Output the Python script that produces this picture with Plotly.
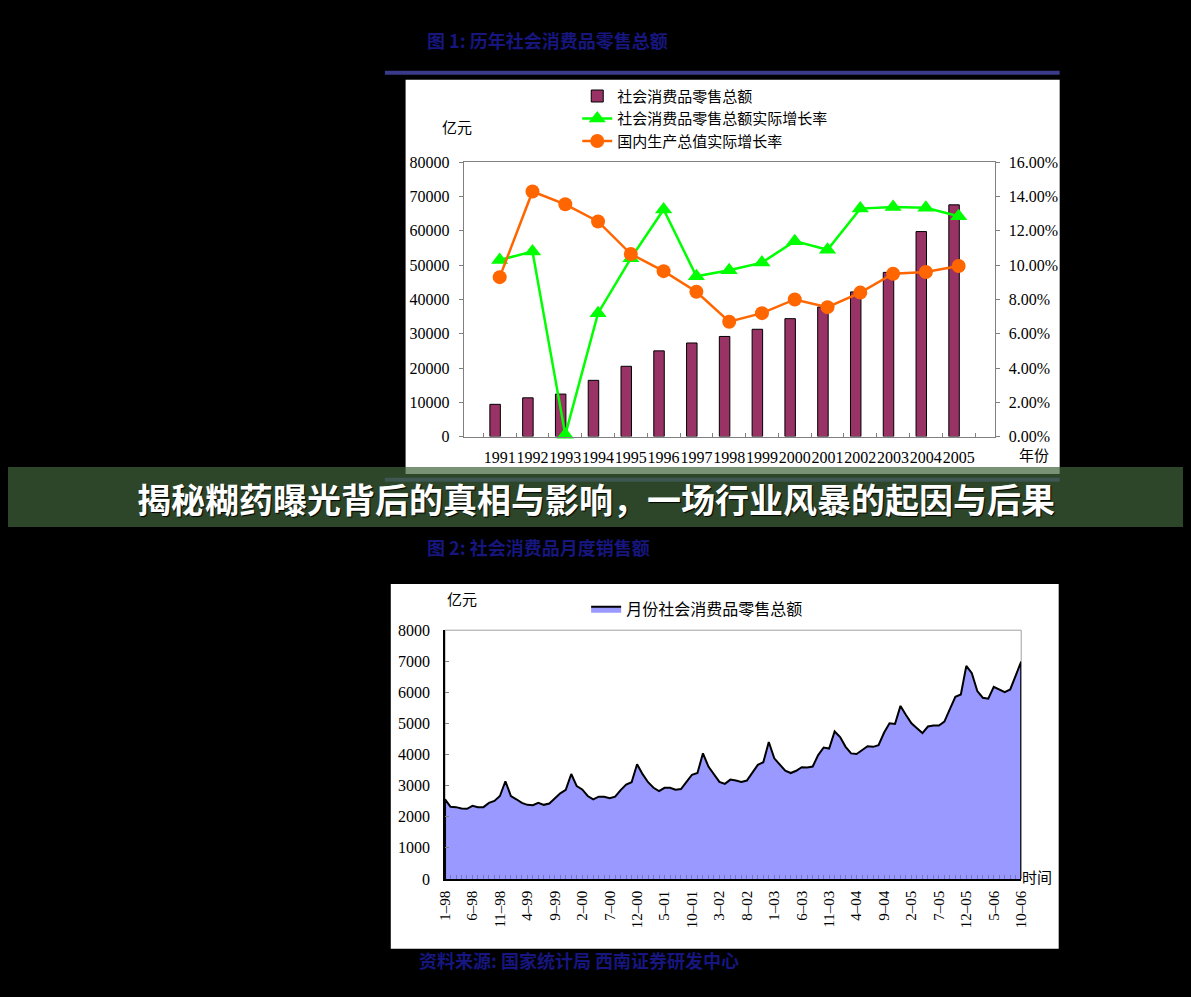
import plotly.graph_objects as go

W, H = 1191, 997

# ---------------- data: chart 1 (annual) ----------------
years = ["1991", "1992", "1993", "1994", "1995", "1996", "1997", "1998",
         "1999", "2000", "2001", "2002", "2003", "2004", "2005"]
retail_total = [9400, 11300, 12400, 16400, 20500, 25000, 27300, 29200,
                31300, 34400, 37800, 42200, 47900, 59800, 67600]
retail_growth_pct = [10.3, 10.8, 0.1, 7.2, 10.4, 13.25, 9.35, 9.7,
                     10.15, 11.4, 10.9, 13.3, 13.4, 13.35, 12.85]
gdp_growth_pct = [9.3, 14.3, 13.55, 12.55, 10.65, 9.65, 8.45, 6.7,
                  7.2, 8.0, 7.55, 8.4, 9.5, 9.6, 9.95]

# ---------------- data: chart 2 (monthly, 1-98 .. 10-06) ----------------
sales_1998 = [2561, 2318, 2308, 2266, 2256, 2350, 2308, 2308, 2445, 2508, 2666, 3141]
sales_1999 = [2666, 2561, 2445, 2382, 2371, 2445, 2382, 2424, 2593, 2751, 2867, 3373]
sales_2000 = [2983, 2877, 2666, 2561, 2645, 2645, 2593, 2645, 2856, 3036, 3110, 3689]
sales_2001 = [3370, 3110, 2930, 2825, 2930, 2930, 2870, 2890, 3120, 3350, 3405, 4040]
sales_2002 = [3615, 3373, 3120, 3057, 3194, 3162, 3120, 3162, 3405, 3668, 3752, 4405]
sales_2003 = [3878, 3668, 3478, 3405, 3478, 3594, 3584, 3615, 3984, 4227, 4195, 4743]
sales_2004 = [4564, 4248, 4037, 4016, 4142, 4269, 4248, 4300, 4701, 5006, 4985, 5565]
sales_2005 = [5270, 5006, 4848, 4690, 4901, 4933, 4933, 5059, 5460, 5860, 5934, 6851]
sales_2006 = [6619, 6040, 5828, 5797, 6177, 6093, 6008, 6093, 6514, 6988]
monthly_sales = (sales_1998 + sales_1999 + sales_2000 + sales_2001 + sales_2002 +
                 sales_2003 + sales_2004 + sales_2005 + sales_2006)
month_tick_labels = ["1–98", "6–98", "11–98", "4–99", "9–99", "2–00", "7–00",
                     "12–00", "5–01", "10–01", "3–02", "8–02", "1–03", "6–03",
                     "11–03", "4–04", "9–04", "2–05", "7–05", "12–05", "5–06", "10–06"]

SERIF = "Liberation Serif, Times New Roman, serif"
CJK = "Noto Sans CJK SC"


def fx(p):
    return p / W


def fy(p):
    return 1 - p / H


fig = go.Figure()

# ---- chart 1 traces ----
fig.add_trace(go.Bar(
    x=years, y=retail_total, name="社会消费品零售总额",
    marker=dict(color="#993366", line=dict(color="black", width=1)),
    width=0.32, offset=-0.30, xaxis="x", yaxis="y", legend="legend"))
fig.add_trace(go.Scatter(
    x=years, y=[v / 100 for v in retail_growth_pct], name="社会消费品零售总额实际增长率",
    mode="lines+markers", line=dict(color="#00ff00", width=2.5),
    marker=dict(symbol="triangle-up", size=15, color="#00ff00"),
    xaxis="x", yaxis="y2", cliponaxis=False, legend="legend"))
fig.add_trace(go.Scatter(
    x=years, y=[v / 100 for v in gdp_growth_pct], name="国内生产总值实际增长率",
    mode="lines+markers", line=dict(color="#ff6600", width=2.5),
    marker=dict(symbol="circle", size=14, color="#ff6600"),
    xaxis="x", yaxis="y2", cliponaxis=False, legend="legend"))

# ---- chart 2 trace ----
idx = list(range(len(monthly_sales)))
poly_x = [idx[0]] + idx + [idx[-1]]
poly_y = [0] + monthly_sales + [0]
fig.add_trace(go.Scatter(
    x=poly_x, y=poly_y, fill="toself", fillcolor="#9999ff", mode="lines",
    line=dict(color="black", width=2), name="月份社会消费品零售总额",
    xaxis="x2", yaxis="y3", legend="legend2"))

tick_text = [""] * len(idx)
for k, lab in enumerate(month_tick_labels):
    tick_text[5 * k] = lab

shapes = [
    # white panels
    dict(type="rect", xref="paper", yref="paper", x0=fx(403), x1=fx(1066),
         y0=fy(474), y1=fy(73), fillcolor="white", line=dict(width=0), layer="below"),
    dict(type="rect", xref="paper", yref="paper", x0=fx(388), x1=fx(1065),
         y0=fy(957), y1=fy(586), fillcolor="white", line=dict(width=0), layer="below"),
    # blue rules
    dict(type="line", xref="paper", yref="paper", x0=fx(382), x1=fx(1066),
         y0=fy(66), y1=fy(66), line=dict(color="#3a3a8a", width=4), layer="below"),
    dict(type="line", xref="paper", yref="paper", x0=fx(382), x1=fx(1066),
         y0=fy(480), y1=fy(480), line=dict(color="#3a3a8a", width=4), layer="below"),
    # grey frame of chart 2
    dict(type="rect", xref="x2 domain", yref="y3 domain", x0=0, x1=1, y0=0, y1=1,
         line=dict(color="#a0a0a0", width=1), layer="below"),
    # green banner
    dict(type="rect", xref="paper", yref="paper", x0=0, x1=1,
         y0=fy(528), y1=fy(467), fillcolor="rgba(64,100,58,0.70)",
         line=dict(width=0), layer="above"),
]

annotations = [
    dict(text="<b>图 1: 历年社会消费品零售总额</b>", x=fx(423), y=fy(33),
         font=dict(family=CJK, size=18, color="#16167e")),
    dict(text="<b>图 2: 社会消费品月度销售额</b>", x=fx(423), y=fy(548),
         font=dict(family=CJK, size=18, color="#16167e")),
    dict(text="<b>资料来源: 国家统计局 西南证券研发中心</b>", x=fx(415), y=fy(969),
         font=dict(family=CJK, size=18, color="#16167e")),
    dict(text="<b>揭秘糊药曝光背后的真相与影响，一场行业风暴的起因与后果</b>",
         x=fx(596), y=fy(499), xanchor="center",
         font=dict(family=CJK, size=34, color="white", shadow="1px 1px 1px #000000")),
    dict(text="亿元", x=fx(455), y=fy(121), xanchor="center",
         font=dict(family=CJK, size=15, color="black")),
    dict(text="年份", x=fx(1040), y=fy(454), xanchor="center",
         font=dict(family=CJK, size=15, color="black")),
    dict(text="亿元", x=fx(460), y=fy(601), xanchor="center",
         font=dict(family=CJK, size=15, color="black")),
    dict(text="时间", x=fx(1043), y=fy(884), xanchor="center",
         font=dict(family=CJK, size=15, color="black")),
]
for a in annotations:
    a.setdefault("xanchor", "left")
    a.update(xref="paper", yref="paper", yanchor="middle", showarrow=False)

tickfont = dict(family=SERIF, size=16, color="black")

fig.update_layout(
    width=W, height=H, autosize=False,
    margin=dict(l=0, r=0, t=0, b=0),
    paper_bgcolor="black", plot_bgcolor="rgba(0,0,0,0)",
    showlegend=True,
    shapes=shapes, annotations=annotations,
    legend=dict(x=fx(577), y=fy(73), xanchor="left", yanchor="top",
                bgcolor="rgba(0,0,0,0)", font=dict(family=CJK, size=15, color="black"),
                tracegroupgap=0),
    legend2=dict(x=fx(586), y=fy(594), xanchor="left", yanchor="top",
                 bgcolor="rgba(0,0,0,0)", font=dict(family=CJK, size=16, color="black")),
    xaxis=dict(domain=[fx(462), fx(1000)], anchor="y", type="category",
               showline=True, linecolor="#808080", mirror=True,
               ticks="inside", tickson="boundaries", ticklen=4, tickcolor="#808080",
               tickfont=tickfont, tickangle=0, showgrid=False, zeroline=False,
               ticklabelstandoff=6),
    yaxis=dict(domain=[fy(436), fy(157)], anchor="x", range=[0, 80000], dtick=10000,
               tickformat="d", showline=True, linecolor="#808080", mirror=True,
               ticks="outside", ticklen=4, tickcolor="#808080",
               tickfont=tickfont, showgrid=False, zeroline=False,
               ticklabelstandoff=6),
    yaxis2=dict(overlaying="y", side="right", anchor="x", range=[0, 0.16], dtick=0.02,
                tickformat=".2%", ticks="outside", ticklen=4, tickcolor="#808080",
                tickfont=tickfont, showgrid=False, zeroline=False, showline=False,
                ticklabelstandoff=6),
    xaxis2=dict(domain=[fx(443), fx(1027)], anchor="y3", range=[0, len(idx) - 1],
                tickmode="array", tickvals=idx, ticktext=tick_text, tickangle=-90,
                ticks="inside", ticklen=4, tickcolor="#7777bb",
                tickfont=dict(family=SERIF, size=15, color="black"),
                showline=True, linecolor="black", linewidth=1.5,
                showgrid=False, zeroline=False, ticklabelstandoff=4),
    yaxis3=dict(domain=[fy(886), fy(633)], anchor="x2", range=[0, 8000], dtick=1000,
                tickformat="d", showline=True, linecolor="black", linewidth=1.5,
                ticks="inside", ticklen=4, tickcolor="#808080",
                tickfont=tickfont, showgrid=False, zeroline=False,
                ticklabelstandoff=10),
)

# place the figure flush with the window's top-left corner
pin_script = (
    "document.documentElement.style.margin='0';"
    "document.documentElement.style.background='black';"
    "document.body.style.margin='0';"
    "document.body.style.padding='0';"
    "document.body.style.overflow='hidden';"
    "document.body.style.background='black';"
    "var gd=document.getElementById('{plot_id}');"
    "gd.style.position='fixed';gd.style.left='0px';gd.style.top='0px';"
    "gd.style.width='1191px';gd.style.height='997px';"
)

fig.write_html(
    "out.html",
    config={"displayModeBar": False},
    post_script=pin_script,
)
